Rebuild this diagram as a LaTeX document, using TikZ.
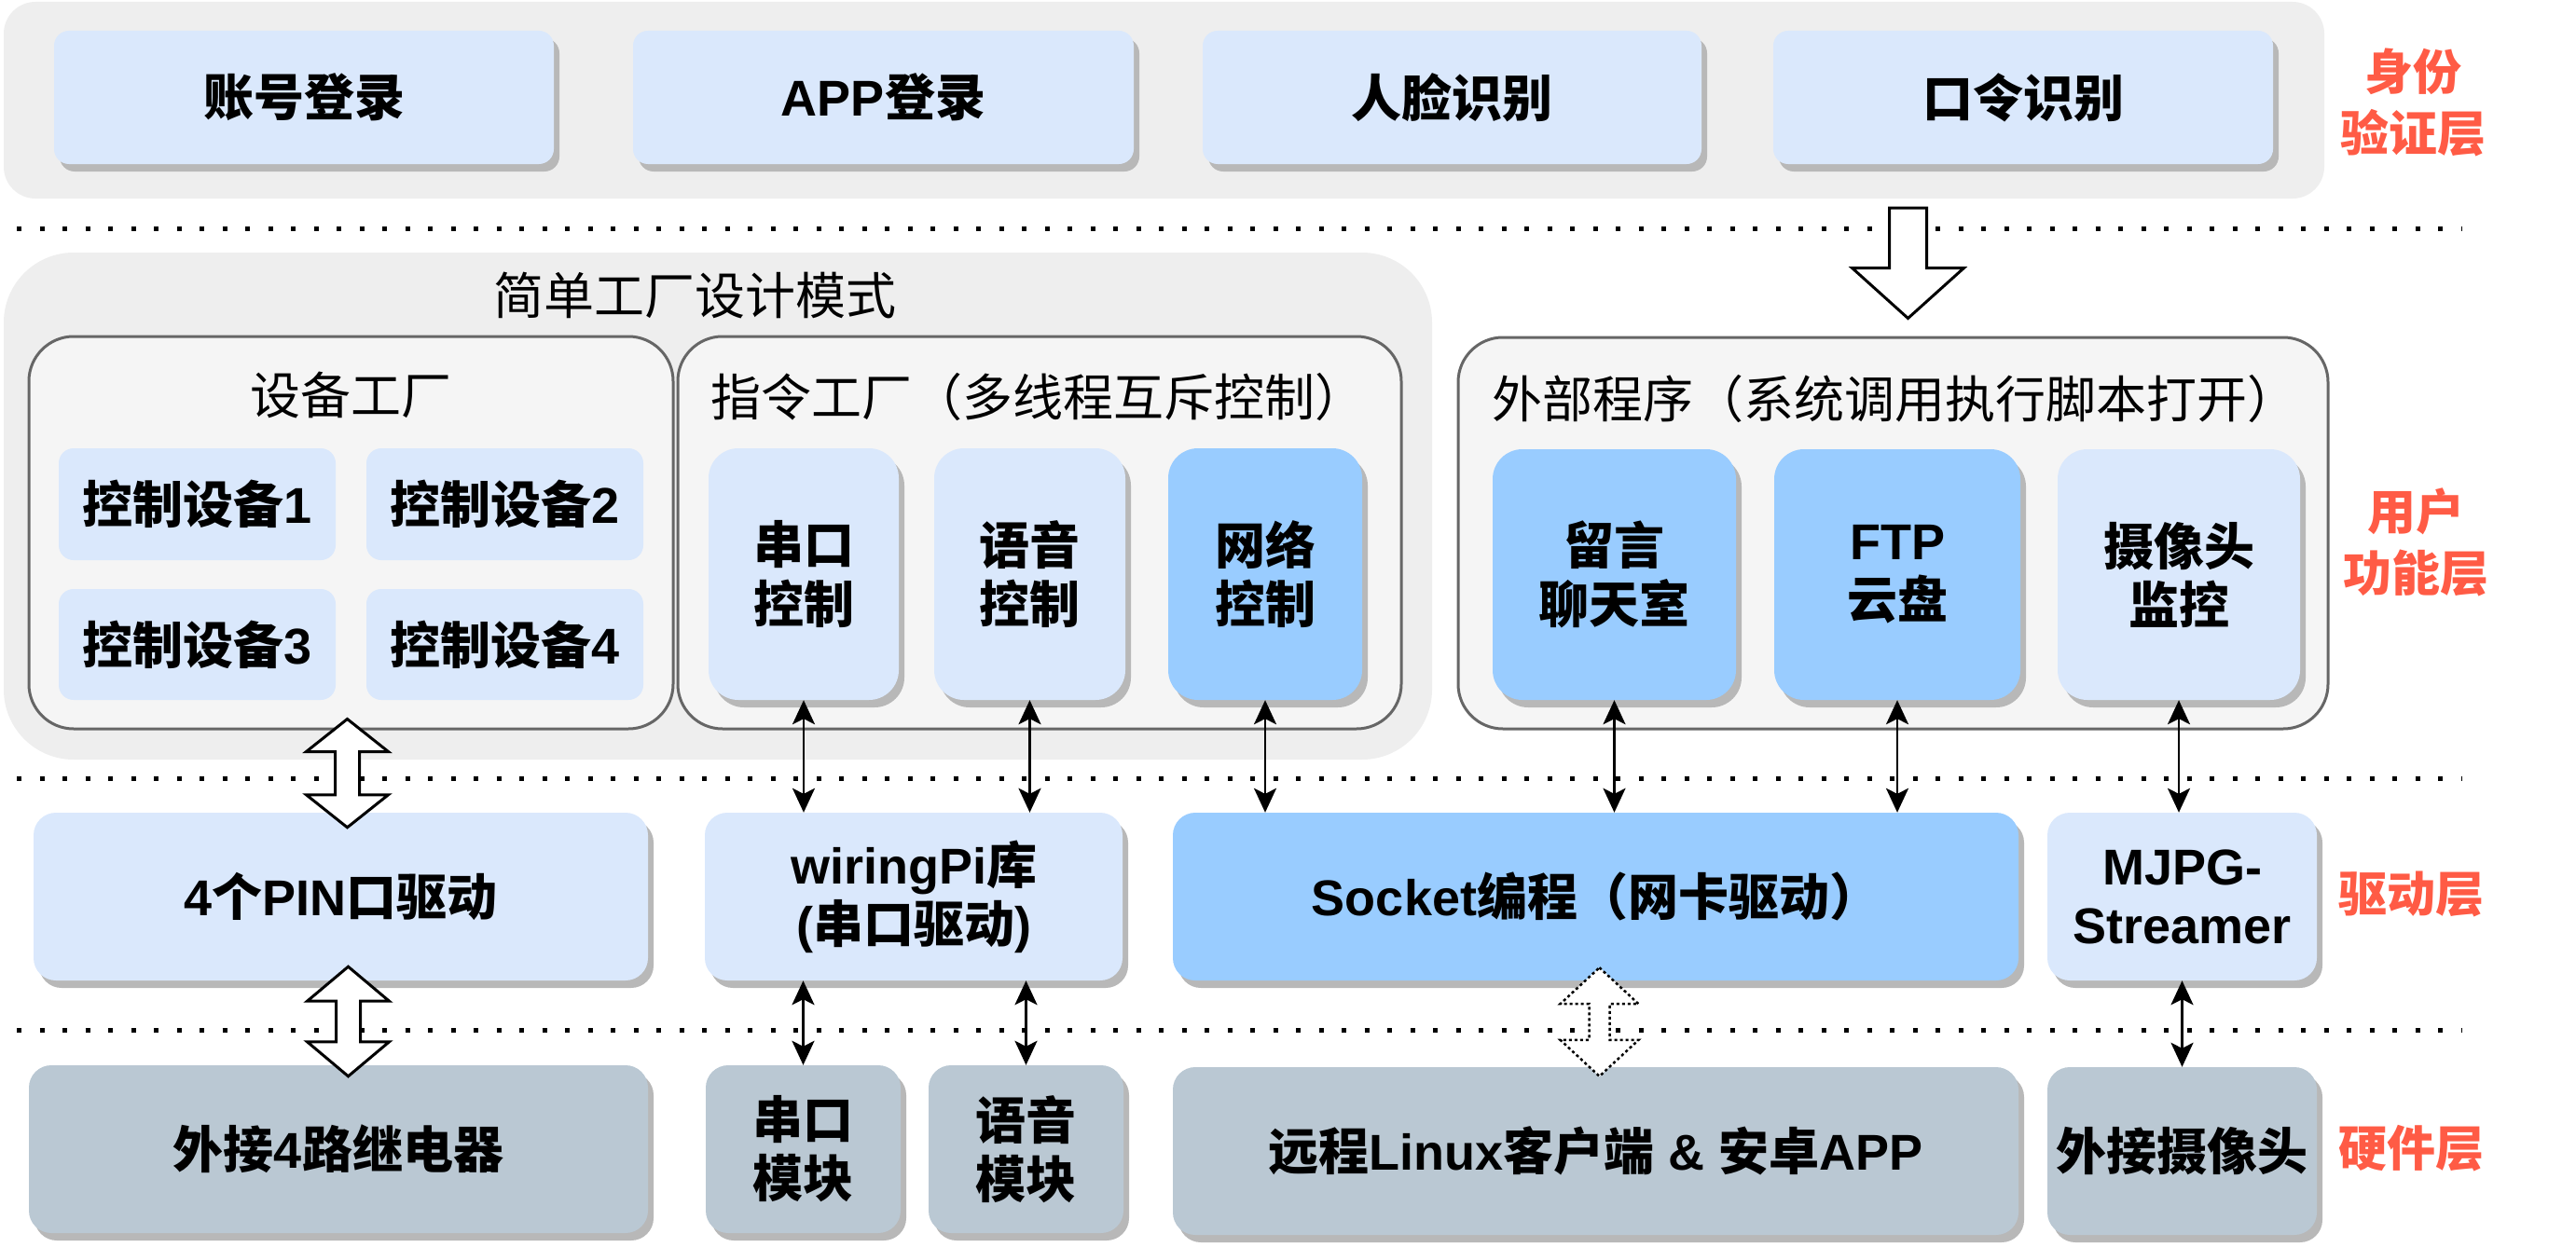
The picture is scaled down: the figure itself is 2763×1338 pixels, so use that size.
\documentclass[tikz,border=0pt]{standalone}
\usepackage{fontspec}
\setmainfont{Liberation Sans}
\newfontfamily\cjk{Noto Sans CJK SC}
\usetikzlibrary{shadows,calc,arrows.meta}
\definecolor{bgc}{HTML}{EEEEEE}
\definecolor{grpc}{HTML}{F5F5F5}
\definecolor{grpline}{HTML}{666666}
\definecolor{lblue}{HTML}{DAE8FC}
\definecolor{mblue}{HTML}{99CCFF}
\definecolor{hwc}{HTML}{BAC8D3}
\definecolor{shadowc}{HTML}{B8B8B8}
\definecolor{redc}{HTML}{FF5B45}
\newcommand{\zhs}[1]{{\cjk #1}}
\newcommand{\bx}[7]{\node[#1, minimum width=#4-#2, minimum height=#5-#3] (#6) at ({(#2+#4)/2},{(#3+#5)/2}) {#7};}
\newcommand{\hdbl}[6]{\path[#6] (#1) -- ($(#1)+(#3,#5)$) -- ($(#1)+(#4,#5)$) -- ($(#2)+(#4,-#5)$) -- ($(#2)+(#3,-#5)$) -- (#2) -- ($(#2)+(-#3,-#5)$) -- ($(#2)+(-#4,-#5)$) -- ($(#1)+(-#4,#5)$) -- ($(#1)+(-#3,#5)$) -- cycle;}
\tikzset{
  bg/.style={fill=bgc, draw=none, inner sep=0pt},
  grp/.style={fill=grpc, draw=grpline, line width=3pt, rounded corners=48pt, inner sep=0pt},
  glbl/.style={font=\fontsize{54}{63}\selectfont, align=center, inner sep=0pt},
  lbl/.style={font=\fontsize{54}{63}\selectfont\bfseries, align=center, inner sep=0pt},
  shad/.style={drop shadow={shadow xshift=6pt, shadow yshift=-8pt, opacity=1, fill=shadowc}},
  tbox/.style={lbl, fill=lblue, rounded corners=16pt, shad},
  cbox/.style={lbl, fill=lblue, rounded corners=16pt},
  colbox/.style={lbl, rounded corners=32pt, shad},
  rowbox/.style={lbl, rounded corners=24pt, shad},
  layer/.style={font=\fontsize{52}{66}\selectfont\bfseries\cjk, text=redc, align=center, inner sep=0pt},
  sep/.style={line width=5pt, dash pattern=on 5pt off 19.5pt},
  link/.style={line width=2.7pt, {Stealth[length=26pt,width=24pt,inset=6pt]}-{Stealth[length=26pt,width=24pt,inset=6pt]}},
  hollow/.style={draw=black, fill=white, line width=3pt, line join=miter},
  hollowdot/.style={draw=black, fill=white, line width=2.5pt, dash pattern=on 3pt off 3pt},
  hshadow/.style={fill=shadowc, shift={(7,8)}}
}
\begin{document}
\begin{tikzpicture}[x=1pt,y=-1pt]
\useasboundingbox (0,0) rectangle (2763,1338);

% ---------- identity layer ----------
\bx{bg, rounded corners=34pt}{4}{2}{2493}{213}{authbg}{}
\bx{tbox}{58}{33}{594}{176}{acc}{\zhs{账号登录}}
\bx{tbox}{679}{33}{1216}{176}{app}{APP\zhs{登录}}
\bx{tbox}{1290}{33}{1825}{176}{face}{\zhs{人脸识别}}
\bx{tbox}{1902}{33}{2438}{176}{pwd}{\zhs{口令识别}}
\node[layer] (l1) at (2588,110) {身份\\验证层};

\draw[sep] (18,245) -- (2640,245);

% ---------- user function layer ----------
\bx{bg, rounded corners=75pt}{4}{271}{1536}{815}{factbg}{}
\node[glbl] (factlbl) at (745,317) {\zhs{简单工厂设计模式}};

\bx{grp}{31}{361}{722}{782}{devgrp}{}
\bx{grp}{727}{361}{1503}{782}{cmdgrp}{}
\bx{grp}{1564}{362}{2497}{782}{extgrp}{}
\node[glbl] (devlbl) at (376,424) {\zhs{设备工厂}};
\node[glbl] (cmdlbl) at (1113,426) {\zhs{指令工厂（多线程互斥控制）}};
\node[glbl] (extlbl) at (2032,428) {\zhs{外部程序（系统调用执行脚本打开）}};

\bx{cbox}{63}{481}{360}{601}{d1}{\zhs{控制设备}1}
\bx{cbox}{393}{481}{690}{601}{d2}{\zhs{控制设备}2}
\bx{cbox}{63}{632}{360}{751}{d3}{\zhs{控制设备}3}
\bx{cbox}{393}{632}{690}{751}{d4}{\zhs{控制设备}4}

\bx{colbox, fill=lblue}{760}{481}{964}{751}{ser}{\zhs{串口}\\\zhs{控制}}
\bx{colbox, fill=lblue}{1002}{481}{1207}{751}{voi}{\zhs{语音}\\\zhs{控制}}
\bx{colbox, fill=mblue}{1253}{481}{1461}{751}{net}{\zhs{网络}\\\zhs{控制}}

\bx{colbox, fill=mblue}{1601}{482}{1862}{751}{chat}{\zhs{留言}\\\zhs{聊天室}}
\bx{colbox, fill=mblue}{1903}{482}{2167}{751}{ftp}{FTP\\\zhs{云盘}}
\bx{colbox, fill=lblue}{2207}{482}{2467}{751}{cam}{\zhs{摄像头}\\\zhs{监控}}
\node[layer] (l2) at (2591,582) {用户\\功能层};

\draw[sep] (18,835) -- (2640,835);

% ---------- driver layer ----------
\bx{rowbox, fill=lblue}{36}{872}{695}{1052}{pin}{4\zhs{个}PIN\zhs{口驱动}}
\bx{rowbox, fill=lblue}{756}{872}{1204}{1052}{wp}{wiringPi\zhs{库}\\(\zhs{串口驱动})}
\bx{rowbox, fill=mblue}{1258}{872}{2165}{1052}{sock}{Socket\zhs{编程（网卡驱动）}}
\bx{rowbox, fill=lblue}{2196}{872}{2485}{1052}{mjpg}{MJPG-\\Streamer}
\node[layer] (l3) at (2586,960) {驱动层};

\draw[sep] (18,1105) -- (2640,1105);

% ---------- hardware layer ----------
\bx{rowbox, fill=hwc}{31}{1143}{695}{1323}{relay}{\zhs{外接}4\zhs{路继电器}}
\bx{rowbox, fill=hwc}{757}{1143}{966}{1323}{serm}{\zhs{串口}\\\zhs{模块}}
\bx{rowbox, fill=hwc}{996}{1143}{1205}{1323}{voim}{\zhs{语音}\\\zhs{模块}}
\bx{rowbox, fill=hwc}{1258}{1145}{2165}{1325}{remote}{\zhs{远程}Linux\zhs{客户端} \& \zhs{安卓}APP}
\bx{rowbox, fill=hwc}{2196}{1145}{2485}{1325}{camhw}{\zhs{外接摄像头}}
\node[layer] (l4) at (2586,1232) {硬件层};

% ---------- thin connectors ----------
\draw[link] (ser.south) -- (ser.south |- wp.north);
\draw[link] (voi.south) -- (voi.south |- wp.north);
\draw[link] (net.south) -- (net.south |- sock.north);
\draw[link] (chat.south) -- (chat.south |- sock.north);
\draw[link] (ftp.south) -- (ftp.south |- sock.north);
\draw[link] (cam.south) -- (cam.south |- mjpg.north);
\draw[link] (serm.north |- wp.south) -- (serm.north);
\draw[link] (voim.north |- wp.south) -- (voim.north);
\draw[link] (camhw.north |- mjpg.south) -- (camhw.north);

% ---------- hollow arrows ----------
\coordinate (ha1) at ($(devgrp.south)+(-4,-12)$);
\coordinate (ha2) at ($(ha1 |- pin.north)+(0,16)$);
\hdbl{ha1}{ha2}{44}{13}{35}{hshadow}
\hdbl{ha1}{ha2}{44}{13}{35}{hollow}

\coordinate (hb1) at ($(pin.south)+(8,-15)$);
\coordinate (hb2) at ($(hb1 |- relay.north)+(0,12)$);
\hdbl{hb1}{hb2}{44}{13}{37}{hshadow}
\hdbl{hb1}{hb2}{44}{13}{37}{hollow}

\coordinate (hc1) at ($(sock.south)+(4,-14)$);
\coordinate (hc2) at ($(hc1 |- remote.north)+(0,10)$);
\hdbl{hc1}{hc2}{42}{11}{39}{hshadow}
\hdbl{hc1}{hc2}{42}{11}{39}{hollowdot}

\coordinate (hd1) at ($(authbg.south -| extgrp.north)+(16,10)$);
\coordinate (hd2) at ($(hd1 |- extgrp.north)+(0,-19)$);
\path[hshadow] ($(hd1)+(-20,0)$) -- ($(hd1)+(20,0)$) -- ($(hd2)+(20,-54)$) -- ($(hd2)+(60,-54)$) -- (hd2) -- ($(hd2)+(-60,-54)$) -- ($(hd2)+(-20,-54)$) -- cycle;
\path[hollow] ($(hd1)+(-20,0)$) -- ($(hd1)+(20,0)$) -- ($(hd2)+(20,-54)$) -- ($(hd2)+(60,-54)$) -- (hd2) -- ($(hd2)+(-60,-54)$) -- ($(hd2)+(-20,-54)$) -- cycle;
\end{tikzpicture}
\end{document}
